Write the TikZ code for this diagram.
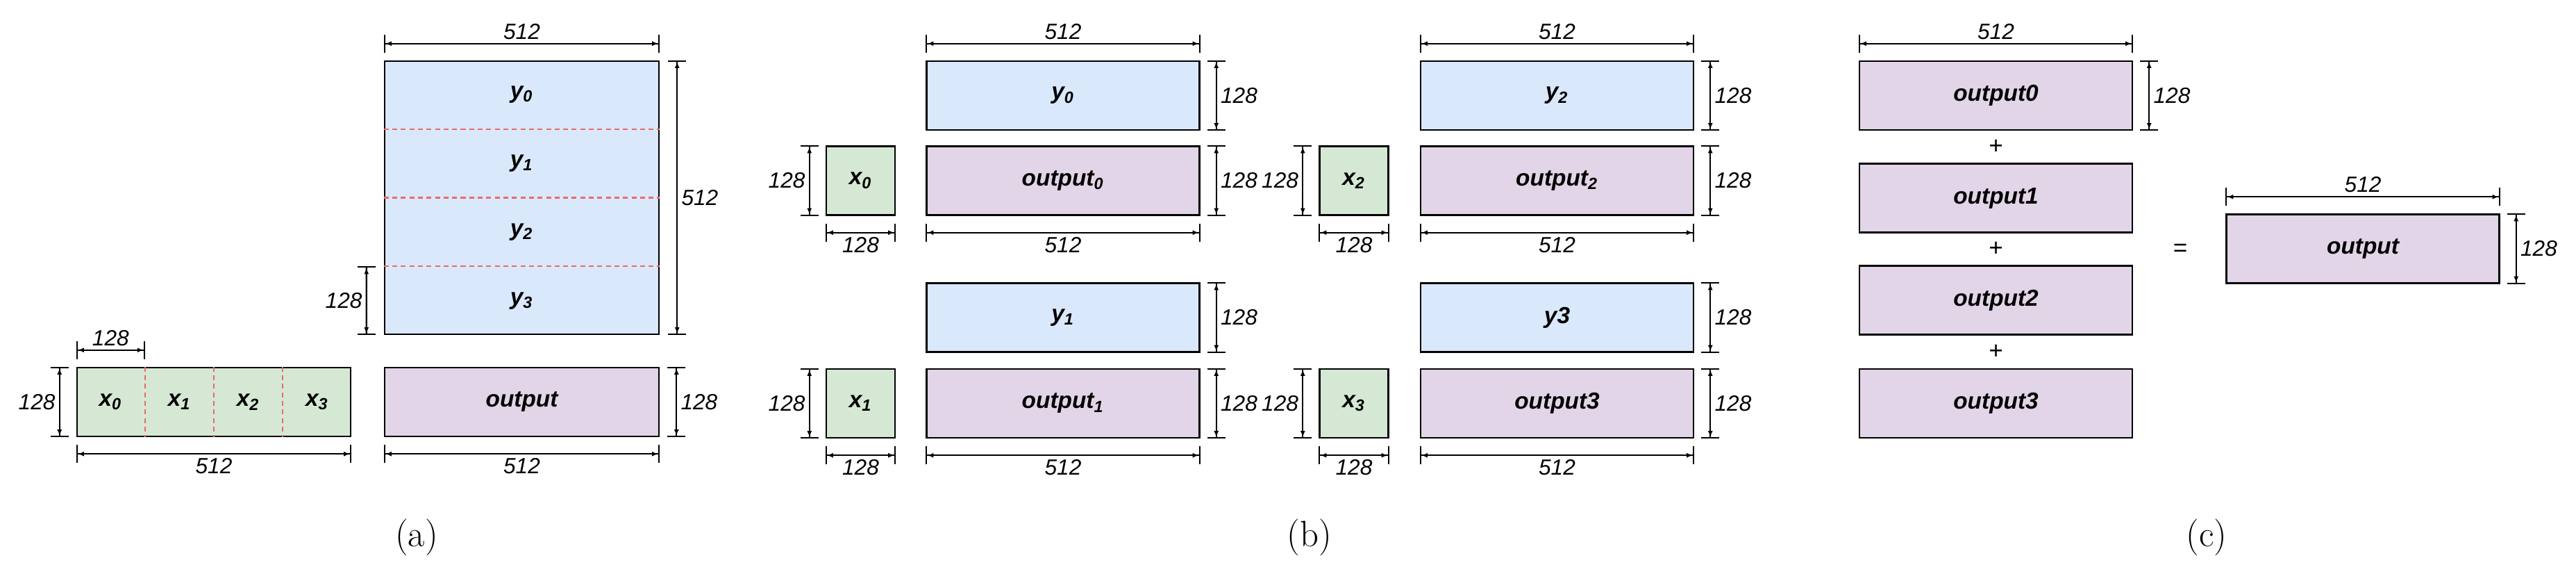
\documentclass[tikz,border=0pt]{standalone}
\usepackage{fontspec}
\setmainfont{Liberation Sans}
\newfontfamily\capfont{Latin Modern Roman}
\usetikzlibrary{arrows.meta,positioning,calc}

\tikzset{
    blk/.style={draw=black, line width=0.7pt, inner sep=0pt, minimum width=3.93cm, minimum height=0.99cm,
                font=\fontsize{9.5}{10}\selectfont\bfseries\itshape},
    sq/.style={blk, minimum width=0.99cm, fill=xgreen},
    ybox/.style={blk, fill=yblue},
    obox/.style={blk, fill=opurple},
    dim/.style={line width=0.6pt, {Bar[width=2.6mm]Latex[length=0.9mm,width=0.7mm]}-{Latex[length=0.9mm,width=0.7mm]Bar[width=2.6mm]}},
    dimtxt/.style={font=\fontsize{9}{10}\selectfont\itshape, inner sep=1.5pt},
    split/.style={draw=splitred, dash pattern=on 2pt off 1.5pt, line width=0.6pt},
    captxt/.style={font=\capfont\fontsize{15}{16}\selectfont}
}
\definecolor{yblue}{HTML}{DAE8FC}
\definecolor{xgreen}{HTML}{D5E8D4}
\definecolor{opurple}{HTML}{E1D5E7}
\definecolor{splitred}{HTML}{EA6B66}

\begin{document}
\begin{tikzpicture}
    \useasboundingbox (0, 0) rectangle (37.1, -8.26);

    % (a) whole product:
    \node[sq, minimum width=3.94cm] (xa) at (3.08, -5.785) {};
    \node[ybox, minimum width=3.95cm, minimum height=3.93cm] (ya) at (7.515, -2.845) {};
    \node[obox, minimum width=3.95cm] (oa) at (7.515, -5.785) {output};
    \foreach \i in {1, 2, 3} {
        \draw[split] ($(xa.north west)!\i/4!(xa.north east)$) -- ($(xa.south west)!\i/4!(xa.south east)$);
        \draw[split] ($(ya.north west)!\i/4!(ya.south west)$) -- ($(ya.north east)!\i/4!(ya.south east)$);
    }
    \foreach \i in {0, 1, 2, 3} {
        \node[font=\fontsize{9.5}{10}\selectfont\bfseries\itshape] (xa\i) at ($(xa.west)!{(\i+0.5)/4}!(xa.east)$) {x\textsubscript{\i}};
        \node[font=\fontsize{9.5}{10}\selectfont\bfseries\itshape] (ya\i) at ($(ya.north)!{(\i+0.5)/4}!(ya.south)$) {y\textsubscript{\i}};
    }

    % Dimensions of (a):
    \draw[dim] ([yshift=0.24cm]ya.north west) -- ([yshift=0.24cm]ya.north east) node[dimtxt, midway, above] {512};
    \draw[dim] ([xshift=0.25cm]ya.north east) -- ([xshift=0.25cm]ya.south east) node[dimtxt, midway, right] {512};
    \draw[dim] ([xshift=-0.25cm]$(ya.north west)!0.75!(ya.south west)$) -- ([xshift=-0.25cm]ya.south west) node[dimtxt, midway, left] {128};
    \draw[dim] ([yshift=0.24cm]xa.north west) -- ([yshift=0.24cm]$(xa.north west)!0.25!(xa.north east)$) node[dimtxt, midway, above] {128};
    \draw[dim] ([xshift=-0.24cm]xa.north west) -- ([xshift=-0.24cm]xa.south west) node[dimtxt, midway, left] {128};
    \draw[dim] ([yshift=-0.24cm]xa.south west) -- ([yshift=-0.24cm]xa.south east) node[dimtxt, midway, below] {512};
    \draw[dim] ([yshift=-0.24cm]oa.south west) -- ([yshift=-0.24cm]oa.south east) node[dimtxt, midway, below] {512};
    \draw[dim] ([xshift=0.24cm]oa.north east) -- ([xshift=0.24cm]oa.south east) node[dimtxt, midway, right] {128};

    % (b) blocks:
    \node[sq] (xb0) at (12.395, -2.6) {x\textsubscript{0}};
    \node[obox] (ob0) at (15.31, -2.6) {output\textsubscript{0}};
    \node[ybox] (yb0) at (15.31, -1.375) {y\textsubscript{0}};
    \node[sq] (xb1) at (12.395, -5.805) {x\textsubscript{1}};
    \node[obox] (ob1) at (15.31, -5.805) {output\textsubscript{1}};
    \node[ybox] (yb1) at (15.31, -4.57) {y\textsubscript{1}};
    \node[sq] (xb2) at (19.5, -2.6) {x\textsubscript{2}};
    \node[obox] (ob2) at (22.425, -2.6) {output\textsubscript{2}};
    \node[ybox] (yb2) at (22.425, -1.375) {y\textsubscript{2}};
    \node[sq] (xb3) at (19.5, -5.805) {x\textsubscript{3}};
    \node[obox] (ob3) at (22.425, -5.805) {output3};
    \node[ybox] (yb3) at (22.425, -4.57) {y3};

    % Dimensions of (b):
    \foreach \n in {yb0, yb2}
        \draw[dim] ([yshift=0.24cm]\n.north west) -- ([yshift=0.24cm]\n.north east) node[dimtxt, midway, above] {512};
    \foreach \n in {ob0, ob1, ob2, ob3}
        \draw[dim] ([yshift=-0.24cm]\n.south west) -- ([yshift=-0.24cm]\n.south east) node[dimtxt, midway, below] {512};
    \foreach \n in {yb0, yb1, yb2, yb3, ob0, ob1, ob2, ob3}
        \draw[dim] ([xshift=0.23cm]\n.north east) -- ([xshift=0.23cm]\n.south east) node[dimtxt, midway, right] {128};
    \foreach \n in {xb0, xb1, xb2, xb3} {
        \draw[dim] ([xshift=-0.23cm]\n.north west) -- ([xshift=-0.23cm]\n.south west) node[dimtxt, midway, left] {128};
        \draw[dim] ([yshift=-0.24cm]\n.south west) -- ([yshift=-0.24cm]\n.south east) node[dimtxt, midway, below] {128};
    }

    % (c) sum:
    \node[obox] (oc0) at (28.745, -1.375) {output0};
    \node[obox] (oc1) at (28.745, -2.85) {output1};
    \node[obox] (oc2) at (28.745, -4.32) {output2};
    \node[obox] (oc3) at (28.745, -5.805) {output3};
    \node[obox] (oc) at (34.03, -3.58) {output};
    \node (p1) at ($(oc0.south)!0.5!(oc1.north)$) {+};
    \node (p2) at ($(oc1.south)!0.5!(oc2.north)$) {+};
    \node (p3) at ($(oc2.south)!0.5!(oc3.north)$) {+};
    \node (eq) at (31.4, -3.6) {=};
    \draw[dim] ([yshift=0.24cm]oc0.north west) -- ([yshift=0.24cm]oc0.north east) node[dimtxt, midway, above] {512};
    \draw[dim] ([xshift=0.23cm]oc0.north east) -- ([xshift=0.23cm]oc0.south east) node[dimtxt, midway, right] {128};
    \draw[dim] ([yshift=0.24cm]oc.north west) -- ([yshift=0.24cm]oc.north east) node[dimtxt, midway, above] {512};
    \draw[dim] ([xshift=0.23cm]oc.north east) -- ([xshift=0.23cm]oc.south east) node[dimtxt, midway, right] {128};

    % Captions:
    \node[captxt] (capa) at (6.0, -7.73) {(a)};
    \node[captxt] (capb) at (18.86, -7.73) {(b)};
    \node[captxt] (capc) at (31.78, -7.73) {(c)};
\end{tikzpicture}
\end{document}
